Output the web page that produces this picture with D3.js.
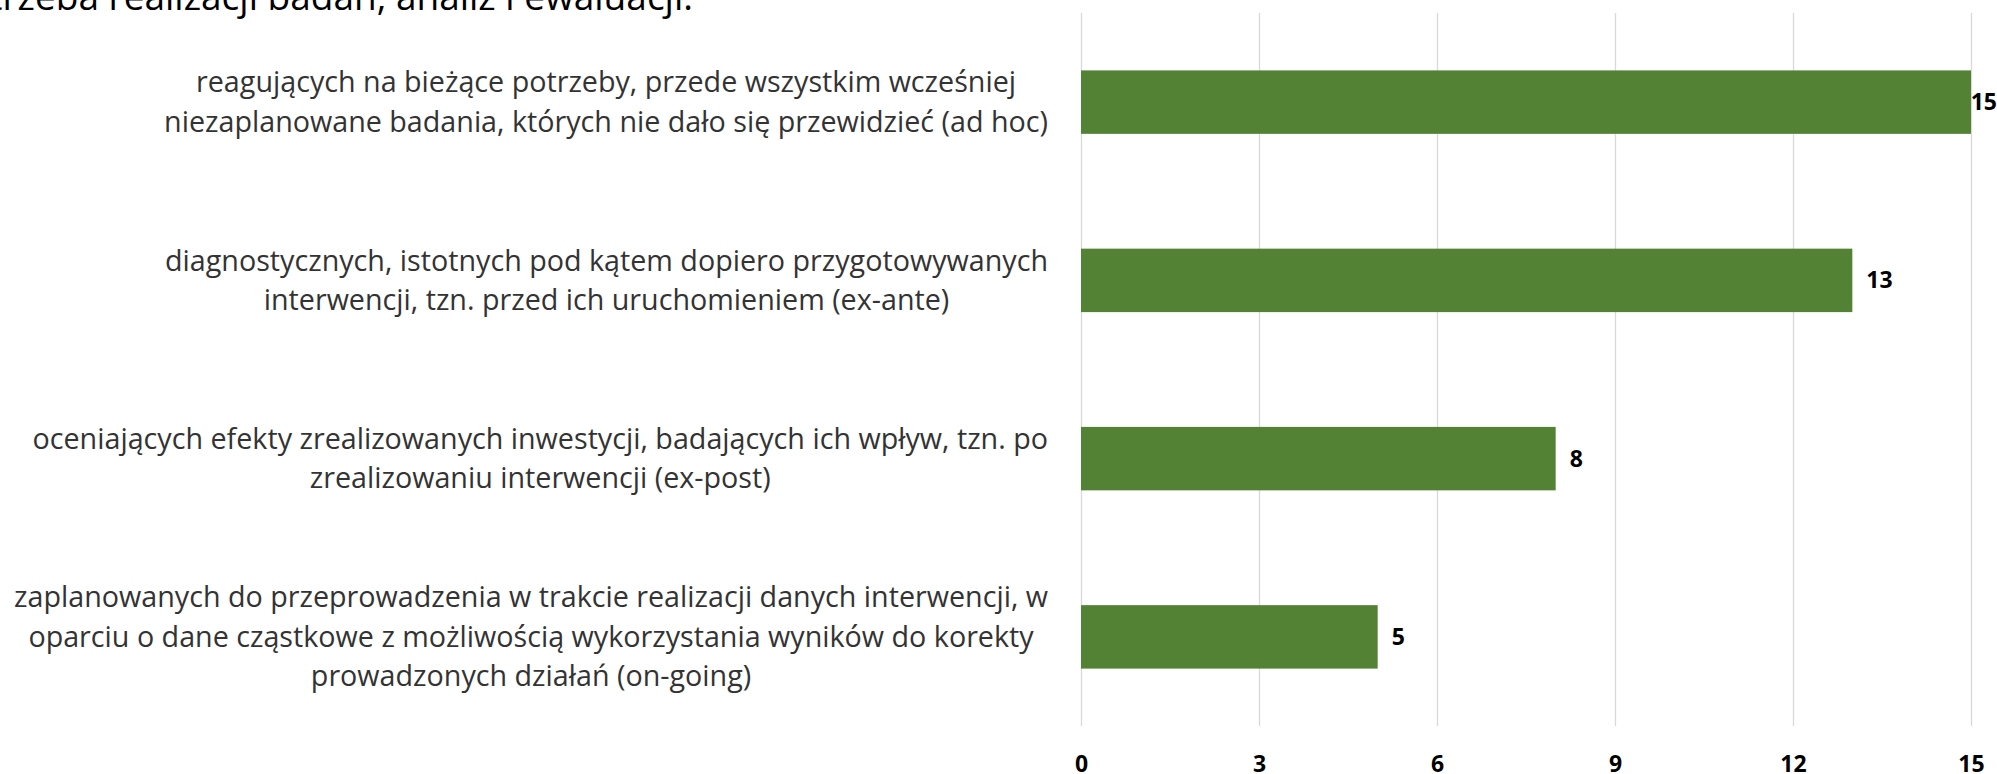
<!DOCTYPE html>
<html>
<head>
<meta charset="utf-8">
<script src="https://cdn.jsdelivr.net/npm/d3@7"></script>
<style>
  body { margin: 0; background: #fff; }
  svg { display: block; font-family: "Open Sans", sans-serif; }
</style>
</head>
<body>
<svg id="chart"></svg>
<script>
// Data
var categories = ["adhoc", "exante", "expost", "ongoing"];
var labelLines = [
  ["reagujących na bieżące potrzeby, przede wszystkim wcześniej",
   "niezaplanowane badania, których nie dało się przewidzieć (ad hoc)"],
  ["diagnostycznych, istotnych pod kątem dopiero przygotowywanych",
   "interwencji, tzn. przed ich uruchomieniem (ex-ante)"],
  ["oceniających efekty zrealizowanych inwestycji, badających ich wpływ, tzn. po",
   "zrealizowaniu interwencji (ex-post)"],
  ["zaplanowanych do przeprowadzenia w trakcie realizacji danych interwencji, w",
   "oparciu o dane cząstkowe z możliwością wykorzystania wyników do korekty",
   "prowadzonych działań (on-going)"]
];
var values = [15, 13, 8, 5];
var tickValues = [0, 3, 6, 9, 12, 15];
var titleText = "Potrzeba realizacji badań, analiz i ewaluacji.";

// Sizes
var width = 1997, height = 774;
var plot = {left: 1081, right: 1971, top: 13, bottom: 726};

var svg = d3.select("#chart")
  .attr("width", width)
  .attr("height", height);

// Scales
var x = d3.scaleLinear()
  .domain([0, 15])
  .range([plot.left, plot.right]);

var y = d3.scaleBand()
  .domain(categories)
  .range([plot.top, plot.bottom])
  .paddingInner(0.644)
  .paddingOuter(0.322);

// Title (mostly above the picture's top edge)
svg.append("text")
  .attr("x", 693)
  .attr("y", 10)
  .attr("text-anchor", "end")
  .attr("font-size", 37)
  .attr("fill", "#000")
  .text(titleText);

// Gridlines + tick labels
var xaxis = d3.axisBottom(x)
  .tickValues(tickValues)
  .tickSize(-(plot.bottom - plot.top))
  .tickFormat(d3.format("d"));

var gx = svg.append("g")
  .attr("transform", "translate(0," + plot.bottom + ")")
  .call(xaxis);
gx.select(".domain").remove();
gx.selectAll(".tick line").attr("stroke", "#d9d9d9").attr("stroke-width", 1.3);
gx.selectAll(".tick text")
  .attr("y", 38)
  .attr("dy", "0.35em")
  .attr("font-family", "Open Sans, sans-serif")
  .attr("font-size", 23)
  .attr("font-weight", "bold")
  .attr("fill", "#000");

// Bars
svg.selectAll("rect.bar")
  .data(values)
  .enter()
.append("rect")
  .attr("class", "bar")
  .attr("x", x(0))
  .attr("y", function(d, i) { return y(categories[i]); })
  .attr("width", function(d) { return x(d) - x(0); })
  .attr("height", y.bandwidth())
  .attr("fill", "#548235");

// Value labels
svg.selectAll("text.val")
  .data(values)
  .enter()
.append("text")
  .attr("class", "val")
  .attr("y", function(d, i) { return y(categories[i]) + y.bandwidth() / 2; })
  .attr("dy", "0.35em")
  .attr("font-size", 23)
  .attr("font-weight", "bold")
  .attr("fill", "#000")
  .text(function(d) { return d; })
  .attr("x", function(d) {
    var w = this.getComputedTextLength();
    return Math.min(x(d) + 14, width - w);
  });

// Category labels: centered lines, block right-aligned to the plot
var labelRight = 1048, lineH = 39.5, catSize = 28.7;
var labels = svg.selectAll("g.cat")
  .data(labelLines)
  .enter()
.append("g")
  .attr("class", "cat");

labels.each(function(lines, i) {
  var g = d3.select(this);
  var cy = y(categories[i]) + y.bandwidth() / 2;
  var t = g.selectAll("text")
    .data(lines)
    .enter()
  .append("text")
    .attr("font-size", catSize)
    .attr("fill", "#333")
    .attr("text-anchor", "middle")
    .attr("dy", "0.35em")
    .attr("y", function(d, j) { return cy + (j - (lines.length - 1) / 2) * lineH; })
    .text(function(d) { return d; });
  var maxW = d3.max(t.nodes(), function(n) { return n.getComputedTextLength(); });
  t.attr("x", labelRight - maxW / 2);
});
</script>
</body>
</html>
